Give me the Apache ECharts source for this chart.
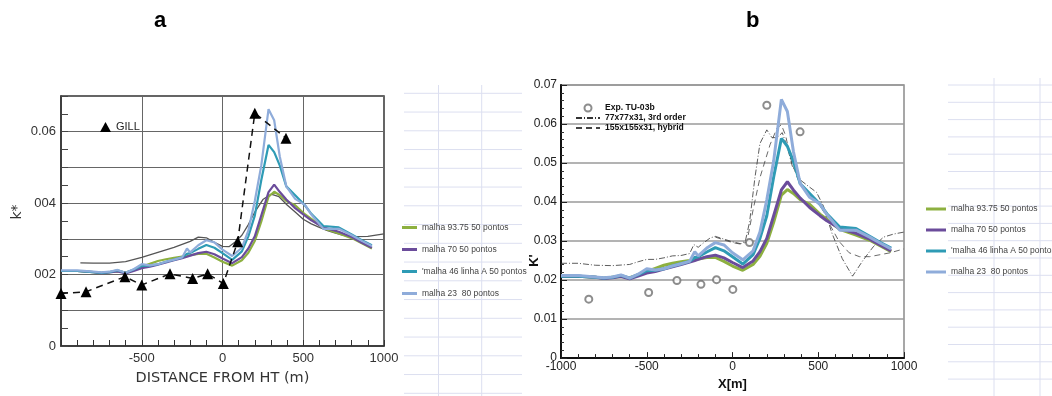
<!DOCTYPE html>
<html><head><meta charset="utf-8">
<script src="https://cdn.jsdelivr.net/npm/echarts@6/dist/echarts.min.js"></script>
<style>html,body{margin:0;padding:0;background:#fff}#c{width:1052px;height:396px}</style>
</head><body><div id="c"></div>
<script>
// ---- data ----
const xM = [-1000,-900,-800,-750,-700,-650,-600,-550,-500,-450,-400,-350,-300,-250,-220,-200,-150,-100,-50,0,60,120,160,200,240,285,320,355,395,450,510,550,625,720,800,860,925];
const malha9375 = [0.021,0.021,0.0207,0.0205,0.0207,0.0209,0.0206,0.0213,0.0222,0.023,0.0238,0.0243,0.0247,0.025,0.0252,0.0254,0.0258,0.0258,0.0248,0.0236,0.0225,0.024,0.0261,0.0294,0.0348,0.0418,0.0432,0.0422,0.0406,0.0394,0.0369,0.0356,0.033,0.0315,0.0302,0.0288,0.0273];
const malha70 = [0.021,0.021,0.0207,0.0204,0.0206,0.0209,0.0203,0.021,0.0218,0.0222,0.0228,0.0234,0.024,0.0246,0.025,0.0253,0.026,0.0264,0.0257,0.0245,0.0232,0.0249,0.0273,0.0307,0.0365,0.0431,0.0452,0.0431,0.041,0.0386,0.0365,0.0352,0.0332,0.032,0.0305,0.029,0.0275];
const malha46 = [0.021,0.021,0.0207,0.0205,0.0207,0.0212,0.0205,0.0214,0.0224,0.0225,0.0229,0.0236,0.0242,0.0248,0.0258,0.026,0.0272,0.0283,0.0275,0.026,0.0241,0.0265,0.0307,0.0365,0.0464,0.0563,0.0543,0.0505,0.0447,0.0422,0.0394,0.037,0.0336,0.0332,0.0312,0.0297,0.0282];
const malha23 = [0.0212,0.0212,0.0208,0.0206,0.0208,0.0213,0.0205,0.0215,0.0229,0.0226,0.0229,0.0236,0.0242,0.0248,0.0273,0.0262,0.0282,0.0296,0.029,0.027,0.0252,0.0275,0.0323,0.0406,0.0505,0.0663,0.0632,0.053,0.0447,0.0412,0.0395,0.0368,0.0328,0.0328,0.031,0.0295,0.028];

const gillX = [-1000,-845,-604,-500,-325,-185,-92,5,94,200,393];
const gillK = [0.0147,0.0152,0.0194,0.0171,0.0202,0.0189,0.0202,0.0175,0.0292,0.0652,0.0582];

const grayX = [-880,-800,-700,-600,-500,-400,-300,-200,-150,-100,-50,0,40,80,120,160,200,250,300,350,400,450,500,550,600,650,700,750,800,900,1000];
const grayK = [0.0233,0.0232,0.0232,0.0236,0.0248,0.0262,0.0276,0.0293,0.0305,0.0303,0.029,0.0279,0.0278,0.0292,0.031,0.034,0.0375,0.041,0.0425,0.0418,0.0395,0.0375,0.0355,0.0342,0.0332,0.0323,0.0316,0.031,0.0306,0.0307,0.0314];

const expX = [-838,-489,-324,-184,-93,2,99,200,394];
const expK = [0.0151,0.0168,0.0199,0.0189,0.0201,0.0176,0.0296,0.0648,0.058];

const ord3X = [-1000,-900,-800,-700,-600,-550,-500,-450,-400,-350,-300,-250,-225,-200,-170,-130,-100,-50,0,50,75,100,130,160,200,230,260,290,320,350,400,450,490,530,580,640,700,760,820,880,940,1000];
const ord3K = [0.0243,0.0243,0.0238,0.0237,0.024,0.0247,0.0253,0.0253,0.0257,0.0262,0.0263,0.0268,0.0291,0.0284,0.0295,0.0308,0.0312,0.0305,0.0298,0.0293,0.03,0.035,0.046,0.055,0.0585,0.0565,0.0565,0.0578,0.054,0.049,0.0455,0.0438,0.0425,0.039,0.032,0.0255,0.021,0.025,0.0285,0.031,0.0318,0.0323];

const hybX = [-100,0,50,84,120,161,219,260,285,310,340,380,420,470,520,570,620,680,740,800,860,920,1000];
const hybK = [0.031,0.0296,0.0292,0.0298,0.038,0.0464,0.0547,0.059,0.0598,0.057,0.051,0.046,0.043,0.041,0.0385,0.034,0.03,0.027,0.026,0.026,0.0265,0.027,0.028];

const aXTicks = [-1000,-500,0,500,1000];
const aXTickLabels = ['','-500','0','500','1000'];
const aYTickLabels = ['0','','002','','004','','0.06',''];
const bXTickLabels = ['-1000','-500','0','500','1000'];
const bYTickLabels = ['0','0.01','0.02','0.03','0.04','0.05','0.06','0.07'];

const names = ['malha 93.75 50 pontos','malha 70 50 pontos',"'malha 46 linha A 50 pontos",'malha 23  80 pontos'];
const colors = ['#8DB040','#6B4C9B','#2E9BB5','#8FACDA'];
const meshes = [malha9375, malha70, malha46, malha23];

const pair = (xs, ys) => xs.map((x, i) => [x, ys[i]]);

// ---- chart ----
const chart = echarts.init(document.getElementById('c'), null, {renderer:'canvas'});
const series = [];
series.push({type:'line', name:'orig', xAxisIndex:0, yAxisIndex:0, data:pair(grayX, grayK), symbol:'none',
  lineStyle:{color:'#555', width:1.3}, color:'#555', z:2});
meshes.forEach((m, i) => series.push({type:'line', name:names[i], xAxisIndex:0, yAxisIndex:0, data:pair(xM, m),
  symbol:'none', color:colors[i], lineStyle:{color:colors[i], width:2.2}, z:3}));
series.push({type:'line', name:'GILL', xAxisIndex:0, yAxisIndex:0, data:pair(gillX, gillK), symbol:'triangle', symbolSize:11,
  color:'#000', itemStyle:{color:'#000'}, lineStyle:{color:'#111', width:1.5, type:[7,5]}, z:4});

series.push({type:'line', name:'77x77x31, 3rd order', xAxisIndex:1, yAxisIndex:1, data:pair(ord3X, ord3K), symbol:'none',
  color:'#333', lineStyle:{color:'#333', width:0.8, type:[6,2,1,2]}, z:2});
series.push({type:'line', name:'155x155x31, hybrid', xAxisIndex:1, yAxisIndex:1, data:pair(hybX, hybK), symbol:'none',
  color:'#444', lineStyle:{color:'#444', width:0.8, type:[6,4]}, z:2});
meshes.forEach((m, i) => series.push({type:'line', name:names[i], xAxisIndex:1, yAxisIndex:1, data:pair(xM, m),
  symbol:'none', color:colors[i], lineStyle:{color:colors[i], width:3}, z:3}));
series.push({type:'scatter', name:'Exp. TU-03b', xAxisIndex:1, yAxisIndex:1, data:pair(expX, expK), symbol:'emptyCircle', symbolSize:7,
  color:'#707070', itemStyle:{color:'#707070', borderWidth:0.8}, z:4});

// notebook-like background lines (decoration)
const graphics = [];
const nbColor = '#dcdff0';
for (let k = 0; k < 17; k++) { const y = 93.3 + 18.75 * k; graphics.push({type:'line', shape:{x1:404,y1:y,x2:522,y2:y}, style:{stroke:nbColor, lineWidth:1}, z:-10}); }
[438.5, 481.7].forEach(x => graphics.push({type:'line', shape:{x1:x,y1:85,x2:x,y2:396}, style:{stroke:nbColor, lineWidth:1}, z:-10}));
for (let k = 0; k < 18; k++) { const y = 85 + 17.3 * k; graphics.push({type:'line', shape:{x1:948,y1:y,x2:1052,y2:y}, style:{stroke:nbColor, lineWidth:1}, z:-10}); }
[994, 1040].forEach(x => graphics.push({type:'line', shape:{x1:x,y1:78,x2:x,y2:396}, style:{stroke:nbColor, lineWidth:1}, z:-10}));
graphics.push({type:'text', left:154, top:10, style:{text:'a', font:'bold 22px "Liberation Sans", Arial, sans-serif', fill:'#000'}});
graphics.push({type:'text', left:746, top:10, style:{text:'b', font:'bold 22px "Liberation Sans", Arial, sans-serif', fill:'#000'}});

const legFont = {fontSize:8.5, lineHeight:12, color:'#444', fontFamily:'"Liberation Sans", Arial, sans-serif'};
const hideDot = {color:'rgba(0,0,0,0)', borderColor:'rgba(0,0,0,0)', opacity:0};

const option = {
  animation:false,
  backgroundColor:'#fff',
  graphic: graphics,
  grid:[
    {left:61, top:96, width:323, height:250, show:true, borderColor:'#333', borderWidth:1.5, containLabel:false},
    {left:561, top:85, width:343, height:282, show:true, borderColor:'#8a8a8a', borderWidth:1.5, containLabel:false}
  ],
  xAxis:[
    {gridIndex:0, type:'value', min:-1000, max:1000, interval:500,
     axisLine:{onZero:false, lineStyle:{color:'#333', width:1.5}},
     axisTick:{inside:true, length:6, lineStyle:{color:'#333'}},
     minorTick:{show:true, splitNumber:5, length:6, lineStyle:{color:'#333', width:1}},
     splitLine:{show:true, lineStyle:{color:'#666', width:1}},
     axisLabel:{fontSize:13, color:'#333', margin:6, fontFamily:'"Liberation Sans", Arial, sans-serif',
       formatter: v => aXTickLabels[aXTicks.indexOf(Math.round(v))] || ''},
     name:'DISTANCE FROM HT (m)', nameLocation:'middle', nameGap:25,
     nameTextStyle:{fontSize:14.5, color:'#333', fontFamily:'"DejaVu Sans", sans-serif'}},
    {gridIndex:1, type:'value', min:-1000, max:1000, interval:500,
     axisLine:{onZero:false, lineStyle:{color:'#111', width:2}},
     axisTick:{inside:true, length:6, lineStyle:{color:'#222'}},
     minorTick:{show:true, splitNumber:5, length:4, lineStyle:{color:'#222', width:1}},
     splitLine:{show:false},
     axisLabel:{fontSize:12, color:'#222', margin:3, fontFamily:'"Liberation Sans", Arial, sans-serif',
       formatter: v => bXTickLabels[Math.round((v + 1000) / 500)]},
     name:'X[m]', nameLocation:'middle', nameGap:12,
     nameTextStyle:{fontSize:13, fontWeight:'bold', color:'#111', fontFamily:'"Liberation Sans", Arial, sans-serif'}}
  ],
  yAxis:[
    {gridIndex:0, type:'value', min:0, max:0.07, interval:0.01,
     axisLine:{onZero:false, lineStyle:{color:'#333', width:1.5}},
     axisTick:{inside:true, length:7, lineStyle:{color:'#444'}},
     minorTick:{show:true, splitNumber:2, length:7, lineStyle:{color:'#444'}},
     splitLine:{show:true, lineStyle:{color:'#666', width:1}},
     axisLabel:{fontSize:13, color:'#333', margin:5, fontFamily:'"Liberation Sans", Arial, sans-serif',
       formatter: v => aYTickLabels[Math.round(v * 100)]},
     name:'k*', nameLocation:'middle', nameGap:37, nameRotate:90, nameMoveOverlap:false,
     nameTextStyle:{fontSize:14, color:'#333', fontFamily:'"DejaVu Sans", sans-serif', padding:[0,0,0,18]}},
    {gridIndex:1, type:'value', min:0, max:0.07, interval:0.01,
     axisLine:{onZero:false, lineStyle:{color:'#111', width:2}},
     axisTick:{inside:true, length:6, lineStyle:{color:'#222'}},
     minorTick:{show:true, splitNumber:5, length:3, lineStyle:{color:'#333'}},
     splitLine:{show:true, lineStyle:{color:'#9a9a9a', width:1.5}},
     axisLabel:{fontSize:12, color:'#222', margin:4, fontFamily:'"Liberation Sans", Arial, sans-serif',
       formatter: v => bYTickLabels[Math.round(v * 100)]},
     name:"K'", nameLocation:'middle', nameGap:20, nameRotate:90, nameMoveOverlap:false,
     nameTextStyle:{fontSize:13, fontWeight:'bold', color:'#111', fontFamily:'"Liberation Sans", Arial, sans-serif', padding:[0,78,0,0]}}
  ],
  legend:[
    {orient:'vertical', left:397, top:216.5, itemWidth:15, itemHeight:3, itemGap:10, icon:'rect',
     data:names, textStyle:legFont, selectedMode:false},
    {orient:'vertical', left:921, top:198, itemWidth:20, itemHeight:3, itemGap:9, icon:'rect',
     data:names, textStyle:legFont, selectedMode:false},
    {orient:'vertical', left:95, top:116.5, itemWidth:11, itemHeight:10, itemGap:0,
     data:[{name:'GILL', icon:'triangle'}], selectedMode:false,
     textStyle:{fontSize:11, color:'#222', fontFamily:'"Liberation Sans", Arial, sans-serif'}},
    {orient:'vertical', left:570, top:98, itemWidth:24, itemHeight:7, itemGap:0, selectedMode:false,
     data:[{name:'Exp. TU-03b'}, {name:'77x77x31, 3rd order', itemStyle:hideDot}, {name:'155x155x31, hybrid', itemStyle:hideDot}],
     textStyle:{fontSize:8.6, lineHeight:10, fontWeight:'bold', color:'#111', fontFamily:'"Liberation Sans", Arial, sans-serif'}}
  ],
  series: series
};
chart.setOption(option);
</script></body></html>
